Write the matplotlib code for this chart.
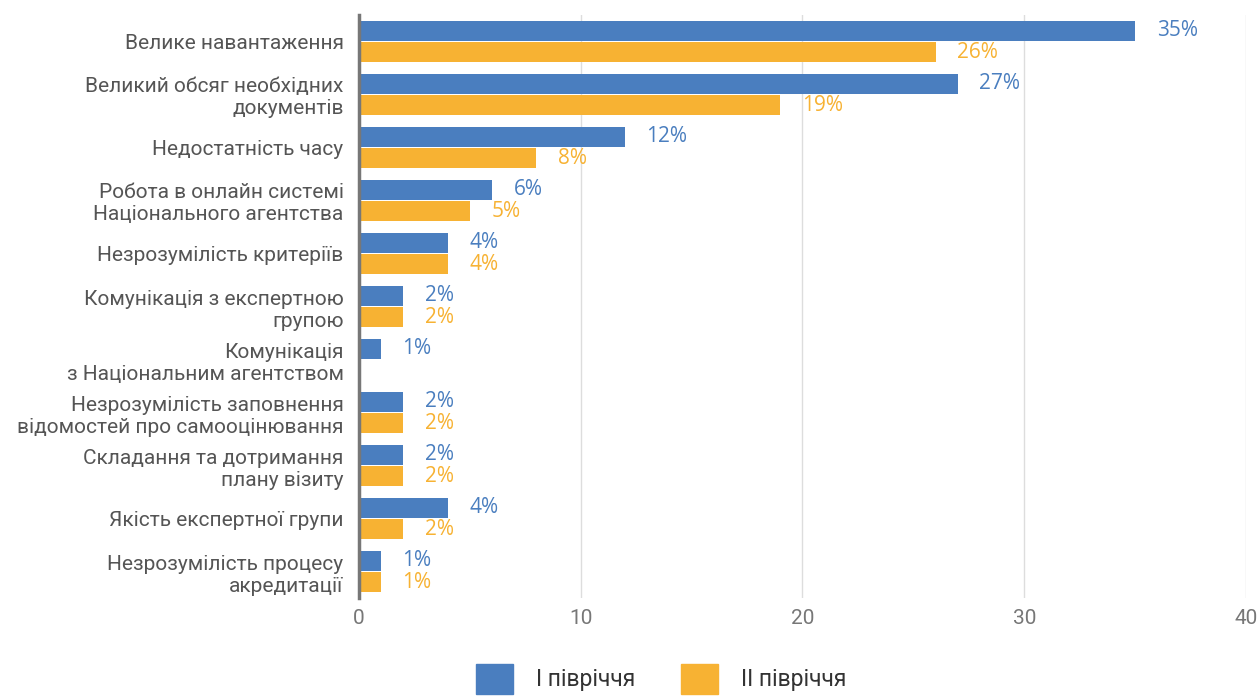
import numpy as np
import matplotlib.pyplot as plt
from matplotlib.patches import Patch

categories = ['Велике навантаження',
              'Великий обсяг необхідних\nдокументів',
              'Недостатність часу',
              'Робота в онлайн системі\nНаціонального агентства',
              'Незрозумілість критеріїв',
              'Комунікація з експертною\nгрупою',
              'Комунікація\nз Національним агентством',
              'Незрозумілість заповнення\nвідомостей про самооцінювання',
              'Складання та дотримання\nплану візиту',
              'Якість експертної групи',
              'Незрозумілість процесу\nакредитації']
half1 = [35, 27, 12, 6, 4, 2, 1, 2, 2, 4, 1]
half2 = [26, 19, 8, 5, 4, 2, 0, 2, 2, 2, 1]
series_names = ['I півріччя', 'II півріччя']
xticks = [0, 10, 20, 30, 40]

blue = '#4A7EBF'
orange = '#F7B233'

plt.rcParams['font.family'] = ['Roboto', 'DejaVu Sans']

fig = plt.figure(figsize=(12.59, 6.97), dpi=100)
ax = fig.add_axes([0.285, 0.142, 0.7047, 0.8365])

y = np.arange(len(categories))
h = 0.38
b1 = ax.barh(y - h/2 - 0.01, half1, height=h, color=blue, zorder=3)
b2 = ax.barh(y + h/2 + 0.01, half2, height=h, color=orange, zorder=3)

for bars, vals, col in [(b1, half1, blue), (b2, half2, orange)]:
    for bar, v in zip(bars, vals):
        if v == 0:
            continue
        ax.annotate(f'{v}%', (bar.get_width(), bar.get_y() + bar.get_height()/2),
                    xytext=(15.5, 0), textcoords='offset points',
                    ha='left', va='center', color=col, fontsize=15,
                    family=['Open Sans', 'DejaVu Sans'])

ax.set_ylim(len(categories) - 0.5, -0.5)
ax.set_xlim(0, 40)
ax.set_xticks(xticks)
ax.set_yticks(y)
ax.set_yticklabels(categories, fontsize=15, color='#555555', linespacing=1.2)
ax.tick_params(axis='x', labelsize=15, labelcolor='#777777', length=0, pad=8)
ax.tick_params(axis='y', length=0, pad=11)
for lab in ax.get_xticklabels():
    lab.set_fontfamily(['Liberation Sans Narrow', 'Roboto'])

ax.grid(axis='x', color='#dddddd', linewidth=1, zorder=0)
for s in ['top', 'right', 'bottom']:
    ax.spines[s].set_visible(False)
ax.spines['left'].set_color('#777777')
ax.spines['left'].set_linewidth(2.5)
ax.spines['left'].set_zorder(4)

handles = [Patch(color=blue), Patch(color=orange)]
fig.legend(handles, series_names, loc='center', bbox_to_anchor=(0.525, 0.026),
           ncol=2, frameon=False, fontsize=16.5, handlelength=1.62, handleheight=1.62,
           columnspacing=2.0, handletextpad=1.0, borderaxespad=0, borderpad=0,
           labelcolor='#333333')

fig.savefig('out.png', dpi=100)
